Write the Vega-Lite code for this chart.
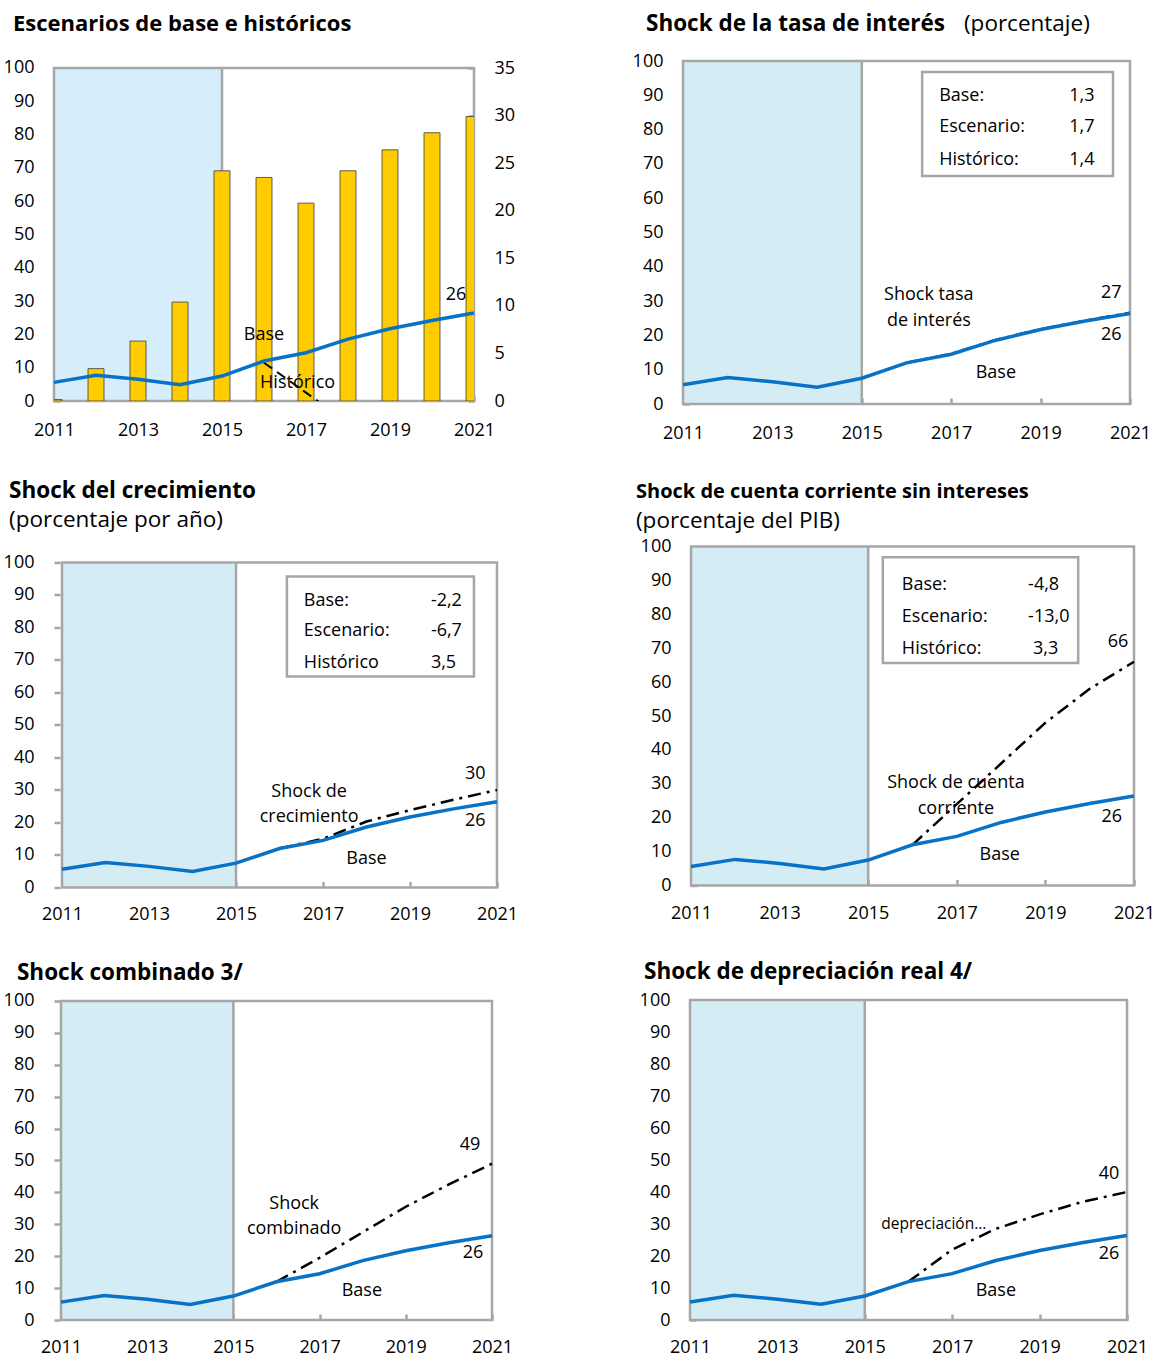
{
  "$schema": "https://vega.github.io/schema/vega-lite/v6.json",
  "padding": {"left": 3, "top": 12, "right": 0, "bottom": 0},
  "spacing": 37.5,
  "datasets": {
    "base": [
      {"year": 2011, "value": 5.6}, {"year": 2012, "value": 7.7}, {"year": 2013, "value": 6.5},
      {"year": 2014, "value": 4.9}, {"year": 2015, "value": 7.5}, {"year": 2016, "value": 12.0},
      {"year": 2017, "value": 14.5}, {"year": 2018, "value": 18.6}, {"year": 2019, "value": 21.7},
      {"year": 2020, "value": 24.2}, {"year": 2021, "value": 26.4}
    ],
    "bars": [
      {"year": 2011, "value": 0.15}, {"year": 2012, "value": 3.4}, {"year": 2013, "value": 6.3},
      {"year": 2014, "value": 10.4}, {"year": 2015, "value": 24.2}, {"year": 2016, "value": 23.5},
      {"year": 2017, "value": 20.8}, {"year": 2018, "value": 24.2}, {"year": 2019, "value": 26.4},
      {"year": 2020, "value": 28.2}, {"year": 2021, "value": 29.9}
    ],
    "hist": [
      {"year": 2016, "value": 11.5}, {"year": 2017, "value": 2.5}, {"year": 2018, "value": -6.5}
    ],
    "shock": [
      {"panel": "p2", "year": 2016, "value": 12.0}, {"panel": "p2", "year": 2017, "value": 14.6},
      {"panel": "p2", "year": 2018, "value": 18.7}, {"panel": "p2", "year": 2019, "value": 21.8},
      {"panel": "p2", "year": 2020, "value": 24.3}, {"panel": "p2", "year": 2021, "value": 26.6},
      {"panel": "p3", "year": 2016, "value": 12.0}, {"panel": "p3", "year": 2017, "value": 15.0},
      {"panel": "p3", "year": 2018, "value": 20.3}, {"panel": "p3", "year": 2019, "value": 23.8},
      {"panel": "p3", "year": 2020, "value": 27.0}, {"panel": "p3", "year": 2021, "value": 30.0},
      {"panel": "p4", "year": 2016, "value": 12.0}, {"panel": "p4", "year": 2017, "value": 24.0},
      {"panel": "p4", "year": 2018, "value": 36.0}, {"panel": "p4", "year": 2019, "value": 48.0},
      {"panel": "p4", "year": 2020, "value": 58.0}, {"panel": "p4", "year": 2021, "value": 66.0},
      {"panel": "p5", "year": 2016, "value": 12.0}, {"panel": "p5", "year": 2017, "value": 19.5},
      {"panel": "p5", "year": 2018, "value": 27.5}, {"panel": "p5", "year": 2019, "value": 35.5},
      {"panel": "p5", "year": 2020, "value": 42.5}, {"panel": "p5", "year": 2021, "value": 49.0},
      {"panel": "p6", "year": 2016, "value": 12.0}, {"panel": "p6", "year": 2017, "value": 22.0},
      {"panel": "p6", "year": 2018, "value": 28.5}, {"panel": "p6", "year": 2019, "value": 33.0},
      {"panel": "p6", "year": 2020, "value": 37.0}, {"panel": "p6", "year": 2021, "value": 40.0}
    ],
    "notes": [
      {"panel": "p1", "year": 2016.0, "value": 19.8, "text": "Base"},
      {"panel": "p1", "year": 2016.8, "value": 5.4, "text": "Histórico"},
      {"panel": "p1", "year": 2020.57, "value": 31.8, "text": "26"},
      {"panel": "p2", "year": 2016.5, "value": 31.8, "text": "Shock tasa"},
      {"panel": "p2", "year": 2016.5, "value": 24.2, "text": "de interés"},
      {"panel": "p2", "year": 2018.0, "value": 9.0, "text": "Base"},
      {"panel": "p2", "year": 2020.58, "value": 32.4, "text": "27"},
      {"panel": "p2", "year": 2020.58, "value": 20.1, "text": "26"},
      {"panel": "p3", "year": 2016.68, "value": 29.5, "text": "Shock de"},
      {"panel": "p3", "year": 2016.68, "value": 21.8, "text": "crecimiento"},
      {"panel": "p3", "year": 2018.0, "value": 8.9, "text": "Base"},
      {"panel": "p3", "year": 2020.5, "value": 34.8, "text": "30"},
      {"panel": "p3", "year": 2020.5, "value": 20.6, "text": "26"},
      {"panel": "p4", "year": 2016.98, "value": 30.1, "text": "Shock de cuenta"},
      {"panel": "p4", "year": 2016.98, "value": 22.7, "text": "corriente"},
      {"panel": "p4", "year": 2017.97, "value": 9.1, "text": "Base"},
      {"panel": "p4", "year": 2020.64, "value": 71.7, "text": "66"},
      {"panel": "p4", "year": 2020.5, "value": 20.1, "text": "26"},
      {"panel": "p5", "year": 2016.41, "value": 36.4, "text": "Shock"},
      {"panel": "p5", "year": 2016.41, "value": 28.5, "text": "combinado"},
      {"panel": "p5", "year": 2017.98, "value": 9.1, "text": "Base"},
      {"panel": "p5", "year": 2020.49, "value": 54.9, "text": "49"},
      {"panel": "p5", "year": 2020.56, "value": 21.0, "text": "26"},
      {"panel": "p6", "year": 2018.0, "value": 9.1, "text": "Base"},
      {"panel": "p6", "year": 2020.59, "value": 45.6, "text": "40"},
      {"panel": "p6", "year": 2020.59, "value": 20.6, "text": "26"}
    ],
    "legend": [
      {"panel": "p2", "year": 2016.73, "value": 89.8, "text": "Base:"},
      {"panel": "p2", "year": 2016.73, "value": 80.8, "text": "Escenario:"},
      {"panel": "p2", "year": 2016.73, "value": 71.1, "text": "Histórico:"},
      {"panel": "p2", "year": 2019.64, "value": 89.8, "text": "1,3"},
      {"panel": "p2", "year": 2019.64, "value": 80.8, "text": "1,7"},
      {"panel": "p2", "year": 2019.64, "value": 71.1, "text": "1,4"},
      {"panel": "p3", "year": 2016.56, "value": 88.3, "text": "Base:"},
      {"panel": "p3", "year": 2016.56, "value": 78.8, "text": "Escenario:"},
      {"panel": "p3", "year": 2016.56, "value": 69.2, "text": "Histórico"},
      {"panel": "p3", "year": 2019.48, "value": 88.3, "text": "-2,2"},
      {"panel": "p3", "year": 2019.48, "value": 78.8, "text": "-6,7"},
      {"panel": "p3", "year": 2019.48, "value": 69.2, "text": "3,5"},
      {"panel": "p4", "year": 2015.76, "value": 88.5, "text": "Base:"},
      {"panel": "p4", "year": 2015.76, "value": 79.1, "text": "Escenario:"},
      {"panel": "p4", "year": 2015.76, "value": 69.7, "text": "Histórico:"},
      {"panel": "p4", "year": 2018.61, "value": 88.5, "text": "-4,8"},
      {"panel": "p4", "year": 2018.61, "value": 79.1, "text": "-13,0"},
      {"panel": "p4", "year": 2018.72, "value": 69.7, "text": "3,3"}
    ]
  },
  "vconcat": [
    {
      "spacing": 104,
      "hconcat": [
        {
          "width": 420, "height": 340,
          "resolve": {"scale": {"y": "independent"}},
          "layer": [
            {
              "layer": [
                {"data": {"values": [{}]}, "mark": {"type": "rect", "color": "#d6eefb"}, "encoding": {
                  "x": {"datum": 2011, "type": "quantitative", "scale": {"domain": [2011, 2021], "nice": false, "zero": false, "padding": 0}},
                  "x2": {"datum": 2015},
                  "y": {"datum": 0, "type": "quantitative", "scale": {"domain": [0, 102.1], "nice": false, "zero": false}, "axis": null},
                  "y2": {"datum": 100}}},
                {"data": {"values": [{}]}, "mark": {"type": "rule", "color": "#a6a6a6", "strokeWidth": 2.5}, "encoding": {
                  "x": {"datum": 2015, "type": "quantitative", "scale": {"domain": [2011, 2021], "nice": false, "zero": false, "padding": 0}},
                  "y": {"datum": 0, "type": "quantitative", "scale": {"domain": [0, 102.1], "nice": false, "zero": false}, "axis": null},
                  "y2": {"datum": 100}}},
                {"data": {"values": [{}]}, "mark": {"type": "rect", "fill": "transparent", "stroke": "#a6a6a6", "strokeWidth": 2.5}, "encoding": {
                  "x": {"datum": 2011, "type": "quantitative", "scale": {"domain": [2011, 2021], "nice": false, "zero": false, "padding": 0}},
                  "x2": {"datum": 2021},
                  "y": {"datum": 0, "type": "quantitative", "scale": {"domain": [0, 102.1], "nice": false, "zero": false}, "axis": null},
                  "y2": {"datum": 100}}},
                {"data": {"values": [{}]}, "mark": {"type": "text", "align": "left", "baseline": "middle", "fontSize": 22, "fontWeight": "bold"}, "encoding": {
                  "x": {"datum": 2010.024, "type": "quantitative", "scale": {"domain": [2011, 2021], "nice": false, "zero": false, "padding": 0}},
                  "y": {"datum": 113.2, "type": "quantitative", "scale": {"domain": [0, 102.1], "nice": false, "zero": false}, "axis": null},
                  "text": {"value": "Escenarios de base e históricos"}}}
              ]
            },
            {
              "data": {"name": "bars"},
              "mark": {"type": "bar", "width": 16, "color": "#ffcc00", "stroke": "#3a3a3a", "strokeWidth": 0.8, "clip": true},
              "encoding": {
                "x": {"field": "year", "type": "quantitative", "title": null, "scale": {"domain": [2011, 2021], "nice": false, "zero": false, "padding": 0}},
                "y": {"field": "value", "type": "quantitative", "title": null, "scale": {"domain": [0, 35.74], "nice": false, "zero": false}, "axis": {"orient": "right", "values": [0, 5, 10, 15, 20, 25, 30, 35], "format": "d", "minExtent": 45}}
              }
            },
            {
              "layer": [
                {"data": {"name": "hist"}, "mark": {"type": "line", "color": "#000000", "strokeWidth": 2, "strokeDash": [10, 6], "clip": true}, "encoding": {
                  "x": {"field": "year", "type": "quantitative", "title": null, "scale": {"domain": [2011, 2021], "nice": false, "zero": false, "padding": 0}},
                  "y": {"field": "value", "type": "quantitative", "title": null, "scale": {"domain": [0, 102.1], "nice": false, "zero": false}, "axis": {"orient": "left", "values": [0, 10, 20, 30, 40, 50, 60, 70, 80, 90, 100], "format": "d", "minExtent": 50}}}},
                {"data": {"name": "base"}, "mark": {"type": "line", "color": "#0872c6", "strokeWidth": 3.5}, "encoding": {
                  "x": {"field": "year", "type": "quantitative", "title": null, "scale": {"domain": [2011, 2021], "nice": false, "zero": false, "padding": 0}, "axis": {"values": [2011, 2012, 2013, 2014, 2015, 2016, 2017, 2018, 2019, 2020, 2021], "format": "d", "labelExpr": "datum.value % 2 == 1 ? datum.label : ''", "labelPadding": 26}},
                  "y": {"field": "value", "type": "quantitative", "title": null, "scale": {"domain": [0, 102.1], "nice": false, "zero": false}, "axis": {"orient": "left", "values": [0, 10, 20, 30, 40, 50, 60, 70, 80, 90, 100], "format": "d", "minExtent": 50}}}},
                {"data": {"name": "notes"}, "transform": [{"filter": "datum.panel == 'p1'"}], "mark": {"type": "text", "fontSize": 18, "baseline": "middle"}, "encoding": {
                  "x": {"field": "year", "type": "quantitative", "title": null, "scale": {"domain": [2011, 2021], "nice": false, "zero": false, "padding": 0}},
                  "y": {"field": "value", "type": "quantitative", "title": null, "scale": {"domain": [0, 102.1], "nice": false, "zero": false}, "axis": {"orient": "left", "values": [0, 10, 20, 30, 40, 50, 60, 70, 80, 90, 100], "format": "d", "minExtent": 50}},
                  "text": {"field": "text"}}}
              ]
            }
          ]
        },
        {
          "width": 447, "height": 343,
          "layer": [
            {"data": {"values": [{}]}, "mark": {"type": "rect", "color": "#d4edf4"}, "encoding": {
              "x": {"datum": 2011, "type": "quantitative", "scale": {"domain": [2011, 2021], "nice": false, "zero": false, "padding": 0}},
              "x2": {"datum": 2015},
              "y": {"datum": 0, "type": "quantitative", "scale": {"domain": [0, 100], "nice": false, "zero": false}, "axis": {"values": [0, 10, 20, 30, 40, 50, 60, 70, 80, 90, 100], "format": "d", "minExtent": 60}},
              "y2": {"datum": 100}}},
            {"data": {"values": [{}]}, "mark": {"type": "rule", "color": "#a6a6a6", "strokeWidth": 2.5}, "encoding": {
              "x": {"datum": 2015, "type": "quantitative", "scale": {"domain": [2011, 2021], "nice": false, "zero": false, "padding": 0}},
              "y": {"datum": 0, "type": "quantitative", "scale": {"domain": [0, 100], "nice": false, "zero": false}, "axis": {"values": [0, 10, 20, 30, 40, 50, 60, 70, 80, 90, 100], "format": "d", "minExtent": 60}},
              "y2": {"datum": 100}}},
            {"data": {"values": [{}]}, "mark": {"type": "rect", "fill": "transparent", "stroke": "#a6a6a6", "strokeWidth": 2.5}, "encoding": {
              "x": {"datum": 2011, "type": "quantitative", "scale": {"domain": [2011, 2021], "nice": false, "zero": false, "padding": 0}},
              "x2": {"datum": 2021},
              "y": {"datum": 0, "type": "quantitative", "scale": {"domain": [0, 100], "nice": false, "zero": false}, "axis": {"values": [0, 10, 20, 30, 40, 50, 60, 70, 80, 90, 100], "format": "d", "minExtent": 60}},
              "y2": {"datum": 100}}},
            {"data": {"values": [{}]}, "mark": {"type": "rect", "fill": "#ffffff", "stroke": "#a6a6a6", "strokeWidth": 2.5}, "encoding": {
              "x": {"datum": 2016.35, "type": "quantitative", "scale": {"domain": [2011, 2021], "nice": false, "zero": false, "padding": 0}},
              "x2": {"datum": 2020.62},
              "y": {"datum": 96.8, "type": "quantitative", "scale": {"domain": [0, 100], "nice": false, "zero": false}, "axis": {"values": [0, 10, 20, 30, 40, 50, 60, 70, 80, 90, 100], "format": "d", "minExtent": 60}},
              "y2": {"datum": 66.5}}},
            {"data": {"name": "legend"}, "transform": [{"filter": "datum.panel == 'p2'"}], "mark": {"type": "text", "fontSize": 18, "align": "left", "baseline": "middle"}, "encoding": {
              "x": {"field": "year", "type": "quantitative", "title": null, "scale": {"domain": [2011, 2021], "nice": false, "zero": false, "padding": 0}},
              "y": {"field": "value", "type": "quantitative", "title": null, "scale": {"domain": [0, 100], "nice": false, "zero": false}, "axis": {"values": [0, 10, 20, 30, 40, 50, 60, 70, 80, 90, 100], "format": "d", "minExtent": 60}},
              "text": {"field": "text"}}},
            {"data": {"name": "shock"}, "transform": [{"filter": "datum.panel == 'p2'"}], "mark": {"type": "line", "color": "#000000", "strokeWidth": 2.5, "strokeDash": [13, 6, 3, 6]}, "encoding": {
              "x": {"field": "year", "type": "quantitative", "title": null, "scale": {"domain": [2011, 2021], "nice": false, "zero": false, "padding": 0}},
              "y": {"field": "value", "type": "quantitative", "title": null, "scale": {"domain": [0, 100], "nice": false, "zero": false}, "axis": {"values": [0, 10, 20, 30, 40, 50, 60, 70, 80, 90, 100], "format": "d", "minExtent": 60}}}},
            {"data": {"name": "base"}, "mark": {"type": "line", "color": "#0872c6", "strokeWidth": 3.5}, "encoding": {
              "x": {"field": "year", "type": "quantitative", "title": null, "scale": {"domain": [2011, 2021], "nice": false, "zero": false, "padding": 0}, "axis": {"values": [2011, 2013, 2015, 2017, 2019, 2021], "format": "d", "labelPadding": 26}},
              "y": {"field": "value", "type": "quantitative", "title": null, "scale": {"domain": [0, 100], "nice": false, "zero": false}, "axis": {"values": [0, 10, 20, 30, 40, 50, 60, 70, 80, 90, 100], "format": "d", "minExtent": 60}}}},
            {"data": {"name": "notes"}, "transform": [{"filter": "datum.panel == 'p2'"}], "mark": {"type": "text", "fontSize": 18, "baseline": "middle"}, "encoding": {
              "x": {"field": "year", "type": "quantitative", "title": null, "scale": {"domain": [2011, 2021], "nice": false, "zero": false, "padding": 0}},
              "y": {"field": "value", "type": "quantitative", "title": null, "scale": {"domain": [0, 100], "nice": false, "zero": false}, "axis": {"values": [0, 10, 20, 30, 40, 50, 60, 70, 80, 90, 100], "format": "d", "minExtent": 60}},
              "text": {"field": "text"}}},
            {"data": {"values": [{}]}, "mark": {"type": "text", "align": "left", "baseline": "middle", "fontSize": 22.5, "fontWeight": "bold"}, "encoding": {
              "x": {"datum": 2010.172, "type": "quantitative", "scale": {"domain": [2011, 2021], "nice": false, "zero": false, "padding": 0}},
              "y": {"datum": 110.8, "type": "quantitative", "scale": {"domain": [0, 100], "nice": false, "zero": false}, "axis": {"values": [0, 10, 20, 30, 40, 50, 60, 70, 80, 90, 100], "format": "d", "minExtent": 60}},
              "text": {"value": "Shock de la tasa de interés"}}},
            {"data": {"values": [{}]}, "mark": {"type": "text", "align": "left", "baseline": "middle", "fontSize": 22.5}, "encoding": {
              "x": {"datum": 2017.286, "type": "quantitative", "scale": {"domain": [2011, 2021], "nice": false, "zero": false, "padding": 0}},
              "y": {"datum": 110.8, "type": "quantitative", "scale": {"domain": [0, 100], "nice": false, "zero": false}, "axis": {"values": [0, 10, 20, 30, 40, 50, 60, 70, 80, 90, 100], "format": "d", "minExtent": 60}},
              "text": {"value": "(porcentaje)"}}}
          ]
        }
      ]
    },
    {
      "spacing": 113,
      "hconcat": [
        {
          "width": 443, "height": 341,
          "layer": [
            {"data": {"values": [{}]}, "mark": {"type": "rect", "color": "#d4edf4"}, "encoding": {
              "x": {"datum": 2011, "type": "quantitative", "scale": {"domain": [2010.816, 2021], "nice": false, "zero": false, "padding": 0}},
              "x2": {"datum": 2015},
              "y": {"datum": 0, "type": "quantitative", "scale": {"domain": [0, 104.92], "nice": false, "zero": false}, "axis": {"values": [0, 10, 20, 30, 40, 50, 60, 70, 80, 90, 100], "format": "d", "minExtent": 50}},
              "y2": {"datum": 100}}},
            {"data": {"values": [{}]}, "mark": {"type": "rule", "color": "#a6a6a6", "strokeWidth": 2.5}, "encoding": {
              "x": {"datum": 2015, "type": "quantitative", "scale": {"domain": [2010.816, 2021], "nice": false, "zero": false, "padding": 0}},
              "y": {"datum": 0, "type": "quantitative", "scale": {"domain": [0, 104.92], "nice": false, "zero": false}, "axis": {"values": [0, 10, 20, 30, 40, 50, 60, 70, 80, 90, 100], "format": "d", "minExtent": 50}},
              "y2": {"datum": 100}}},
            {"data": {"values": [{}]}, "mark": {"type": "rect", "fill": "transparent", "stroke": "#a6a6a6", "strokeWidth": 2.5}, "encoding": {
              "x": {"datum": 2011, "type": "quantitative", "scale": {"domain": [2010.816, 2021], "nice": false, "zero": false, "padding": 0}},
              "x2": {"datum": 2021},
              "y": {"datum": 0, "type": "quantitative", "scale": {"domain": [0, 104.92], "nice": false, "zero": false}, "axis": {"values": [0, 10, 20, 30, 40, 50, 60, 70, 80, 90, 100], "format": "d", "minExtent": 50}},
              "y2": {"datum": 100}}},
            {"data": {"values": [{}]}, "mark": {"type": "rect", "fill": "#ffffff", "stroke": "#a6a6a6", "strokeWidth": 2.5}, "encoding": {
              "x": {"datum": 2016.17, "type": "quantitative", "scale": {"domain": [2010.816, 2021], "nice": false, "zero": false, "padding": 0}},
              "x2": {"datum": 2020.47},
              "y": {"datum": 95.7, "type": "quantitative", "scale": {"domain": [0, 104.92], "nice": false, "zero": false}, "axis": {"values": [0, 10, 20, 30, 40, 50, 60, 70, 80, 90, 100], "format": "d", "minExtent": 50}},
              "y2": {"datum": 64.9}}},
            {"data": {"name": "legend"}, "transform": [{"filter": "datum.panel == 'p3'"}], "mark": {"type": "text", "fontSize": 18, "align": "left", "baseline": "middle"}, "encoding": {
              "x": {"field": "year", "type": "quantitative", "title": null, "scale": {"domain": [2010.816, 2021], "nice": false, "zero": false, "padding": 0}},
              "y": {"field": "value", "type": "quantitative", "title": null, "scale": {"domain": [0, 104.92], "nice": false, "zero": false}, "axis": {"values": [0, 10, 20, 30, 40, 50, 60, 70, 80, 90, 100], "format": "d", "minExtent": 50}},
              "text": {"field": "text"}}},
            {"data": {"name": "shock"}, "transform": [{"filter": "datum.panel == 'p3'"}], "mark": {"type": "line", "color": "#000000", "strokeWidth": 2.5, "strokeDash": [13, 6, 3, 6]}, "encoding": {
              "x": {"field": "year", "type": "quantitative", "title": null, "scale": {"domain": [2010.816, 2021], "nice": false, "zero": false, "padding": 0}},
              "y": {"field": "value", "type": "quantitative", "title": null, "scale": {"domain": [0, 104.92], "nice": false, "zero": false}, "axis": {"values": [0, 10, 20, 30, 40, 50, 60, 70, 80, 90, 100], "format": "d", "minExtent": 50}}}},
            {"data": {"name": "base"}, "mark": {"type": "line", "color": "#0872c6", "strokeWidth": 3.5}, "encoding": {
              "x": {"field": "year", "type": "quantitative", "title": null, "scale": {"domain": [2010.816, 2021], "nice": false, "zero": false, "padding": 0}, "axis": {"values": [2011, 2013, 2015, 2017, 2019, 2021], "format": "d", "labelPadding": 24}},
              "y": {"field": "value", "type": "quantitative", "title": null, "scale": {"domain": [0, 104.92], "nice": false, "zero": false}, "axis": {"values": [0, 10, 20, 30, 40, 50, 60, 70, 80, 90, 100], "format": "d", "minExtent": 50}}}},
            {"data": {"name": "notes"}, "transform": [{"filter": "datum.panel == 'p3'"}], "mark": {"type": "text", "fontSize": 18, "baseline": "middle"}, "encoding": {
              "x": {"field": "year", "type": "quantitative", "title": null, "scale": {"domain": [2010.816, 2021], "nice": false, "zero": false, "padding": 0}},
              "y": {"field": "value", "type": "quantitative", "title": null, "scale": {"domain": [0, 104.92], "nice": false, "zero": false}, "axis": {"values": [0, 10, 20, 30, 40, 50, 60, 70, 80, 90, 100], "format": "d", "minExtent": 50}},
              "text": {"field": "text"}}},
            {"data": {"values": [{}]}, "mark": {"type": "text", "align": "left", "baseline": "middle", "fontSize": 22.5, "fontWeight": "bold"}, "encoding": {
              "x": {"datum": 2009.782, "type": "quantitative", "scale": {"domain": [2010.816, 2021], "nice": false, "zero": false, "padding": 0}},
              "y": {"datum": 122.15, "type": "quantitative", "scale": {"domain": [0, 104.92], "nice": false, "zero": false}, "axis": {"values": [0, 10, 20, 30, 40, 50, 60, 70, 80, 90, 100], "format": "d", "minExtent": 50}},
              "text": {"value": "Shock del crecimiento"}}},
            {"data": {"values": [{}]}, "mark": {"type": "text", "align": "left", "baseline": "middle", "fontSize": 22.5}, "encoding": {
              "x": {"datum": 2009.782, "type": "quantitative", "scale": {"domain": [2010.816, 2021], "nice": false, "zero": false, "padding": 0}},
              "y": {"datum": 113.0, "type": "quantitative", "scale": {"domain": [0, 104.92], "nice": false, "zero": false}, "axis": {"values": [0, 10, 20, 30, 40, 50, 60, 70, 80, 90, 100], "format": "d", "minExtent": 50}},
              "text": {"value": "(porcentaje por año)"}}}
          ]
        },
        {
          "width": 443, "height": 339,
          "layer": [
            {"data": {"values": [{}]}, "mark": {"type": "rect", "color": "#d4edf4"}, "encoding": {
              "x": {"datum": 2011, "type": "quantitative", "scale": {"domain": [2011, 2021], "nice": false, "zero": false, "padding": 0}},
              "x2": {"datum": 2015},
              "y": {"datum": 0, "type": "quantitative", "scale": {"domain": [0, 100], "nice": false, "zero": false}, "axis": {"values": [0, 10, 20, 30, 40, 50, 60, 70, 80, 90, 100], "format": "d", "minExtent": 60}},
              "y2": {"datum": 100}}},
            {"data": {"values": [{}]}, "mark": {"type": "rule", "color": "#a6a6a6", "strokeWidth": 2.5}, "encoding": {
              "x": {"datum": 2015, "type": "quantitative", "scale": {"domain": [2011, 2021], "nice": false, "zero": false, "padding": 0}},
              "y": {"datum": 0, "type": "quantitative", "scale": {"domain": [0, 100], "nice": false, "zero": false}, "axis": {"values": [0, 10, 20, 30, 40, 50, 60, 70, 80, 90, 100], "format": "d", "minExtent": 60}},
              "y2": {"datum": 100}}},
            {"data": {"values": [{}]}, "mark": {"type": "rect", "fill": "transparent", "stroke": "#a6a6a6", "strokeWidth": 2.5}, "encoding": {
              "x": {"datum": 2011, "type": "quantitative", "scale": {"domain": [2011, 2021], "nice": false, "zero": false, "padding": 0}},
              "x2": {"datum": 2021},
              "y": {"datum": 0, "type": "quantitative", "scale": {"domain": [0, 100], "nice": false, "zero": false}, "axis": {"values": [0, 10, 20, 30, 40, 50, 60, 70, 80, 90, 100], "format": "d", "minExtent": 60}},
              "y2": {"datum": 100}}},
            {"data": {"values": [{}]}, "mark": {"type": "rect", "fill": "#ffffff", "stroke": "#a6a6a6", "strokeWidth": 2.5}, "encoding": {
              "x": {"datum": 2015.33, "type": "quantitative", "scale": {"domain": [2011, 2021], "nice": false, "zero": false, "padding": 0}},
              "x2": {"datum": 2019.74},
              "y": {"datum": 96.8, "type": "quantitative", "scale": {"domain": [0, 100], "nice": false, "zero": false}, "axis": {"values": [0, 10, 20, 30, 40, 50, 60, 70, 80, 90, 100], "format": "d", "minExtent": 60}},
              "y2": {"datum": 65.6}}},
            {"data": {"name": "legend"}, "transform": [{"filter": "datum.panel == 'p4'"}], "mark": {"type": "text", "fontSize": 18, "align": "left", "baseline": "middle"}, "encoding": {
              "x": {"field": "year", "type": "quantitative", "title": null, "scale": {"domain": [2011, 2021], "nice": false, "zero": false, "padding": 0}},
              "y": {"field": "value", "type": "quantitative", "title": null, "scale": {"domain": [0, 100], "nice": false, "zero": false}, "axis": {"values": [0, 10, 20, 30, 40, 50, 60, 70, 80, 90, 100], "format": "d", "minExtent": 60}},
              "text": {"field": "text"}}},
            {"data": {"name": "shock"}, "transform": [{"filter": "datum.panel == 'p4'"}], "mark": {"type": "line", "color": "#000000", "strokeWidth": 2.5, "strokeDash": [13, 6, 3, 6]}, "encoding": {
              "x": {"field": "year", "type": "quantitative", "title": null, "scale": {"domain": [2011, 2021], "nice": false, "zero": false, "padding": 0}},
              "y": {"field": "value", "type": "quantitative", "title": null, "scale": {"domain": [0, 100], "nice": false, "zero": false}, "axis": {"values": [0, 10, 20, 30, 40, 50, 60, 70, 80, 90, 100], "format": "d", "minExtent": 60}}}},
            {"data": {"name": "base"}, "mark": {"type": "line", "color": "#0872c6", "strokeWidth": 3.5}, "encoding": {
              "x": {"field": "year", "type": "quantitative", "title": null, "scale": {"domain": [2011, 2021], "nice": false, "zero": false, "padding": 0}, "axis": {"values": [2011, 2013, 2015, 2017, 2019, 2021], "format": "d", "labelPadding": 25}},
              "y": {"field": "value", "type": "quantitative", "title": null, "scale": {"domain": [0, 100], "nice": false, "zero": false}, "axis": {"values": [0, 10, 20, 30, 40, 50, 60, 70, 80, 90, 100], "format": "d", "minExtent": 60}}}},
            {"data": {"name": "notes"}, "transform": [{"filter": "datum.panel == 'p4'"}], "mark": {"type": "text", "fontSize": 18, "baseline": "middle"}, "encoding": {
              "x": {"field": "year", "type": "quantitative", "title": null, "scale": {"domain": [2011, 2021], "nice": false, "zero": false, "padding": 0}},
              "y": {"field": "value", "type": "quantitative", "title": null, "scale": {"domain": [0, 100], "nice": false, "zero": false}, "axis": {"values": [0, 10, 20, 30, 40, 50, 60, 70, 80, 90, 100], "format": "d", "minExtent": 60}},
              "text": {"field": "text"}}},
            {"data": {"values": [{}]}, "mark": {"type": "text", "align": "left", "baseline": "middle", "fontSize": 20, "fontWeight": "bold"}, "encoding": {
              "x": {"datum": 2009.758, "type": "quantitative", "scale": {"domain": [2011, 2021], "nice": false, "zero": false, "padding": 0}},
              "y": {"datum": 116.2, "type": "quantitative", "scale": {"domain": [0, 100], "nice": false, "zero": false}, "axis": {"values": [0, 10, 20, 30, 40, 50, 60, 70, 80, 90, 100], "format": "d", "minExtent": 60}},
              "text": {"value": "Shock de cuenta corriente sin intereses"}}},
            {"data": {"values": [{}]}, "mark": {"type": "text", "align": "left", "baseline": "middle", "fontSize": 22.5}, "encoding": {
              "x": {"datum": 2009.758, "type": "quantitative", "scale": {"domain": [2011, 2021], "nice": false, "zero": false, "padding": 0}},
              "y": {"datum": 107.4, "type": "quantitative", "scale": {"domain": [0, 100], "nice": false, "zero": false}, "axis": {"values": [0, 10, 20, 30, 40, 50, 60, 70, 80, 90, 100], "format": "d", "minExtent": 60}},
              "text": {"value": "(porcentaje del PIB)"}}}
          ]
        }
      ]
    },
    {
      "spacing": 117,
      "hconcat": [
        {
          "width": 438, "height": 320,
          "layer": [
            {"data": {"values": [{}]}, "mark": {"type": "rect", "color": "#d4edf4"}, "encoding": {
              "x": {"datum": 2011, "type": "quantitative", "scale": {"domain": [2010.838, 2021], "nice": false, "zero": false, "padding": 0}},
              "x2": {"datum": 2015},
              "y": {"datum": 0, "type": "quantitative", "scale": {"domain": [0, 100.31], "nice": false, "zero": false}, "axis": {"values": [0, 10, 20, 30, 40, 50, 60, 70, 80, 90, 100], "format": "d", "minExtent": 50}},
              "y2": {"datum": 100}}},
            {"data": {"values": [{}]}, "mark": {"type": "rule", "color": "#a6a6a6", "strokeWidth": 2.5}, "encoding": {
              "x": {"datum": 2015, "type": "quantitative", "scale": {"domain": [2010.838, 2021], "nice": false, "zero": false, "padding": 0}},
              "y": {"datum": 0, "type": "quantitative", "scale": {"domain": [0, 100.31], "nice": false, "zero": false}, "axis": {"values": [0, 10, 20, 30, 40, 50, 60, 70, 80, 90, 100], "format": "d", "minExtent": 50}},
              "y2": {"datum": 100}}},
            {"data": {"values": [{}]}, "mark": {"type": "rect", "fill": "transparent", "stroke": "#a6a6a6", "strokeWidth": 2.5}, "encoding": {
              "x": {"datum": 2011, "type": "quantitative", "scale": {"domain": [2010.838, 2021], "nice": false, "zero": false, "padding": 0}},
              "x2": {"datum": 2021},
              "y": {"datum": 0, "type": "quantitative", "scale": {"domain": [0, 100.31], "nice": false, "zero": false}, "axis": {"values": [0, 10, 20, 30, 40, 50, 60, 70, 80, 90, 100], "format": "d", "minExtent": 50}},
              "y2": {"datum": 100}}},
            {"data": {"name": "shock"}, "transform": [{"filter": "datum.panel == 'p5'"}], "mark": {"type": "line", "color": "#000000", "strokeWidth": 2.5, "strokeDash": [13, 6, 3, 6]}, "encoding": {
              "x": {"field": "year", "type": "quantitative", "title": null, "scale": {"domain": [2010.838, 2021], "nice": false, "zero": false, "padding": 0}},
              "y": {"field": "value", "type": "quantitative", "title": null, "scale": {"domain": [0, 100.31], "nice": false, "zero": false}, "axis": {"values": [0, 10, 20, 30, 40, 50, 60, 70, 80, 90, 100], "format": "d", "minExtent": 50}}}},
            {"data": {"name": "base"}, "mark": {"type": "line", "color": "#0872c6", "strokeWidth": 3.5}, "encoding": {
              "x": {"field": "year", "type": "quantitative", "title": null, "scale": {"domain": [2010.838, 2021], "nice": false, "zero": false, "padding": 0}, "axis": {"values": [2011, 2013, 2015, 2017, 2019, 2021], "format": "d", "labelPadding": 24}},
              "y": {"field": "value", "type": "quantitative", "title": null, "scale": {"domain": [0, 100.31], "nice": false, "zero": false}, "axis": {"values": [0, 10, 20, 30, 40, 50, 60, 70, 80, 90, 100], "format": "d", "minExtent": 50}}}},
            {"data": {"name": "notes"}, "transform": [{"filter": "datum.panel == 'p5'"}], "mark": {"type": "text", "fontSize": 18, "baseline": "middle"}, "encoding": {
              "x": {"field": "year", "type": "quantitative", "title": null, "scale": {"domain": [2010.838, 2021], "nice": false, "zero": false, "padding": 0}},
              "y": {"field": "value", "type": "quantitative", "title": null, "scale": {"domain": [0, 100.31], "nice": false, "zero": false}, "axis": {"values": [0, 10, 20, 30, 40, 50, 60, 70, 80, 90, 100], "format": "d", "minExtent": 50}},
              "text": {"field": "text"}}},
            {"data": {"values": [{}]}, "mark": {"type": "text", "align": "left", "baseline": "middle", "fontSize": 22.5, "fontWeight": "bold"}, "encoding": {
              "x": {"datum": 2009.979, "type": "quantitative", "scale": {"domain": [2010.838, 2021], "nice": false, "zero": false, "padding": 0}},
              "y": {"datum": 108.8, "type": "quantitative", "scale": {"domain": [0, 100.31], "nice": false, "zero": false}, "axis": {"values": [0, 10, 20, 30, 40, 50, 60, 70, 80, 90, 100], "format": "d", "minExtent": 50}},
              "text": {"value": "Shock combinado 3/"}}}
          ]
        },
        {
          "width": 437, "height": 320,
          "layer": [
            {"data": {"values": [{}]}, "mark": {"type": "rect", "color": "#d4edf4"}, "encoding": {
              "x": {"datum": 2011, "type": "quantitative", "scale": {"domain": [2011, 2021], "nice": false, "zero": false, "padding": 0}},
              "x2": {"datum": 2015},
              "y": {"datum": 0, "type": "quantitative", "scale": {"domain": [0, 100], "nice": false, "zero": false}, "axis": {"values": [0, 10, 20, 30, 40, 50, 60, 70, 80, 90, 100], "format": "d", "minExtent": 60}},
              "y2": {"datum": 100}}},
            {"data": {"values": [{}]}, "mark": {"type": "rule", "color": "#a6a6a6", "strokeWidth": 2.5}, "encoding": {
              "x": {"datum": 2015, "type": "quantitative", "scale": {"domain": [2011, 2021], "nice": false, "zero": false, "padding": 0}},
              "y": {"datum": 0, "type": "quantitative", "scale": {"domain": [0, 100], "nice": false, "zero": false}, "axis": {"values": [0, 10, 20, 30, 40, 50, 60, 70, 80, 90, 100], "format": "d", "minExtent": 60}},
              "y2": {"datum": 100}}},
            {"data": {"values": [{}]}, "mark": {"type": "rect", "fill": "transparent", "stroke": "#a6a6a6", "strokeWidth": 2.5}, "encoding": {
              "x": {"datum": 2011, "type": "quantitative", "scale": {"domain": [2011, 2021], "nice": false, "zero": false, "padding": 0}},
              "x2": {"datum": 2021},
              "y": {"datum": 0, "type": "quantitative", "scale": {"domain": [0, 100], "nice": false, "zero": false}, "axis": {"values": [0, 10, 20, 30, 40, 50, 60, 70, 80, 90, 100], "format": "d", "minExtent": 60}},
              "y2": {"datum": 100}}},
            {"data": {"name": "shock"}, "transform": [{"filter": "datum.panel == 'p6'"}], "mark": {"type": "line", "color": "#000000", "strokeWidth": 2.5, "strokeDash": [13, 6, 3, 6]}, "encoding": {
              "x": {"field": "year", "type": "quantitative", "title": null, "scale": {"domain": [2011, 2021], "nice": false, "zero": false, "padding": 0}},
              "y": {"field": "value", "type": "quantitative", "title": null, "scale": {"domain": [0, 100], "nice": false, "zero": false}, "axis": {"values": [0, 10, 20, 30, 40, 50, 60, 70, 80, 90, 100], "format": "d", "minExtent": 60}}}},
            {"data": {"name": "base"}, "mark": {"type": "line", "color": "#0872c6", "strokeWidth": 3.5}, "encoding": {
              "x": {"field": "year", "type": "quantitative", "title": null, "scale": {"domain": [2011, 2021], "nice": false, "zero": false, "padding": 0}, "axis": {"values": [2011, 2013, 2015, 2017, 2019, 2021], "format": "d", "labelPadding": 24}},
              "y": {"field": "value", "type": "quantitative", "title": null, "scale": {"domain": [0, 100], "nice": false, "zero": false}, "axis": {"values": [0, 10, 20, 30, 40, 50, 60, 70, 80, 90, 100], "format": "d", "minExtent": 60}}}},
            {"data": {"name": "notes"}, "transform": [{"filter": "datum.panel == 'p6'"}], "mark": {"type": "text", "fontSize": 18, "baseline": "middle"}, "encoding": {
              "x": {"field": "year", "type": "quantitative", "title": null, "scale": {"domain": [2011, 2021], "nice": false, "zero": false, "padding": 0}},
              "y": {"field": "value", "type": "quantitative", "title": null, "scale": {"domain": [0, 100], "nice": false, "zero": false}, "axis": {"values": [0, 10, 20, 30, 40, 50, 60, 70, 80, 90, 100], "format": "d", "minExtent": 60}},
              "text": {"field": "text"}}},
            {"data": {"values": [{}]}, "mark": {"type": "text", "fontSize": 15.5, "baseline": "middle"}, "encoding": {
              "x": {"datum": 2016.58, "type": "quantitative", "scale": {"domain": [2011, 2021], "nice": false, "zero": false, "padding": 0}},
              "y": {"datum": 30, "type": "quantitative", "scale": {"domain": [0, 100], "nice": false, "zero": false}, "axis": {"values": [0, 10, 20, 30, 40, 50, 60, 70, 80, 90, 100], "format": "d", "minExtent": 60}},
              "text": {"value": "depreciación..."}}},
            {"data": {"values": [{}]}, "mark": {"type": "text", "align": "left", "baseline": "middle", "fontSize": 22.5, "fontWeight": "bold"}, "encoding": {
              "x": {"datum": 2009.947, "type": "quantitative", "scale": {"domain": [2011, 2021], "nice": false, "zero": false, "padding": 0}},
              "y": {"datum": 108.6, "type": "quantitative", "scale": {"domain": [0, 100], "nice": false, "zero": false}, "axis": {"values": [0, 10, 20, 30, 40, 50, 60, 70, 80, 90, 100], "format": "d", "minExtent": 60}},
              "text": {"value": "Shock de depreciación real 4/"}}}
          ]
        }
      ]
    }
  ],
  "config": {
    "view": {"stroke": null},
    "font": "Open Sans",
    "axis": {"domain": false, "grid": false, "title": null, "tickColor": "#a6a6a6", "tickWidth": 2.5, "tickSize": -6, "labelFont": "Open Sans", "labelFontSize": 18, "labelColor": "#000000", "labelPadding": 26, "labelFlush": false, "labelOverlap": false, "zindex": 1},
    "axisY": {"tickCount": 11},
    "text": {"font": "Open Sans", "color": "#000000"}
  }
}
